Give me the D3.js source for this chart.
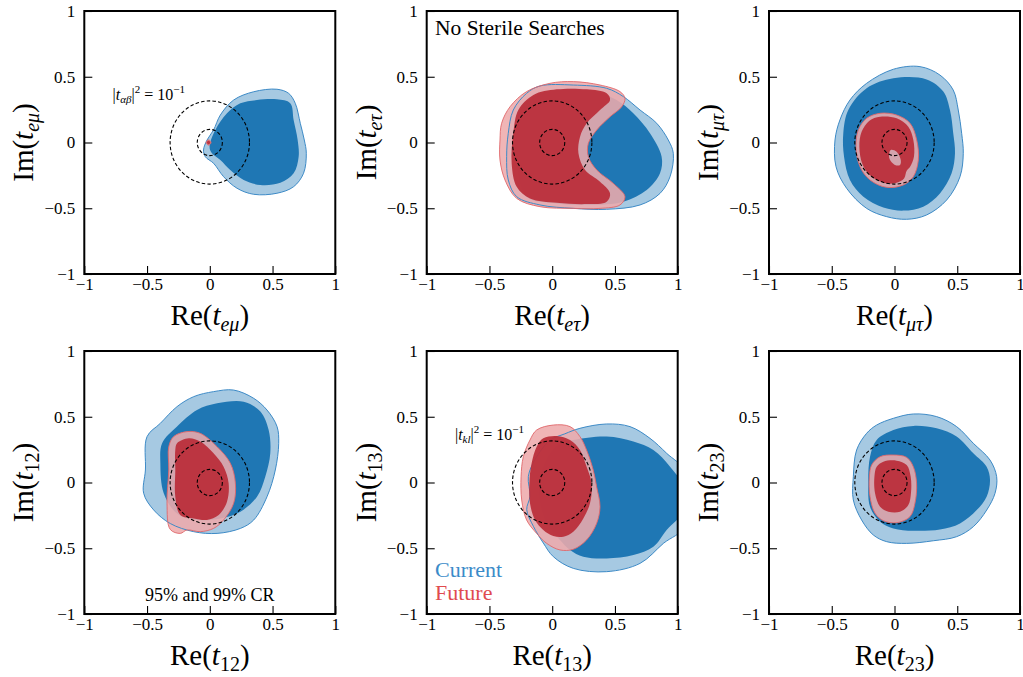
<!DOCTYPE html>
<html><head><meta charset="utf-8">
<script src="https://cdn.jsdelivr.net/npm/d3@7"></script>
<style>body{margin:0;background:#fff;} svg{display:block;font-family:"Liberation Serif","Times New Roman",serif;}</style>
</head><body><svg id="c" width="1023" height="677" font-family="Liberation Serif"></svg>
<script>
// ---------- data ----------
const subscripts = ["eμ","eτ","μτ","12","13","23"];
const subItalic = [true,true,true,false,false,false];
const tickValues = [-1,-0.5,0,0.5,1];
const tickLabels = ["−1","−0.5","0","0.5","1"];
const circleRadii = [Math.sqrt(0.1), Math.sqrt(0.01)]; // |t|^2 = 10^-1, 10^-2

// panel 1: t_eμ
const p1Blue99 = [[0.535,0.405],[0.35,0.386],[0.19,0.323],[0.084,0.209],[0.03,0.095],[-0.022,0.019],[-0.05,-0.057],[-0.036,-0.108],[0.03,-0.158],[0.11,-0.26],[0.217,-0.348],[0.35,-0.394],[0.535,-0.386],[0.668,-0.336],[0.747,-0.234],[0.769,-0.082],[0.753,0.019],[0.721,0.146],[0.681,0.298],[0.628,0.374]];
const p1Blue95 = [[-0.002,-0.032],[0.044,0.095],[0.137,0.222],[0.243,0.298],[0.376,0.323],[0.535,0.328],[0.641,0.298],[0.668,0.171],[0.7,0.019],[0.708,-0.108],[0.668,-0.234],[0.562,-0.306],[0.402,-0.323],[0.27,-0.285],[0.163,-0.209],[0.084,-0.133],[0.017,-0.082]];
const p1Red99 = [[-0.03,0.0],[-0.01,0.02],[0.01,0.0],[-0.01,-0.02]];
const p1Red95 = [[-0.025,0.0],[-0.01,0.016],[0.005,0.0],[-0.01,-0.016]];

// panel 2: t_eτ
const p2Blue99 = [[-0.097,0.43],[0.168,0.437],[0.434,0.412],[0.567,0.349],[0.70,0.247],[0.833,0.146],[0.925,0.019],[0.965,-0.082],[0.939,-0.26],[0.859,-0.387],[0.70,-0.475],[0.434,-0.508],[0.168,-0.501],[-0.097,-0.475],[-0.283,-0.412],[-0.35,-0.285],[-0.363,-0.108],[-0.35,0.07],[-0.31,0.247],[-0.204,0.374]];
const p2Blue95 = [[-0.044,0.387],[0.301,0.40],[0.513,0.323],[0.646,0.222],[0.779,0.07],[0.872,-0.108],[0.859,-0.234],[0.753,-0.361],[0.567,-0.45],[0.301,-0.475],[0.036,-0.463],[-0.204,-0.412],[-0.283,-0.184],[-0.296,0.07],[-0.243,0.272]];
const p2Red99 = [[-0.416,0.019],[-0.403,0.146],[-0.336,0.272],[-0.204,0.387],[-0.018,0.45],[0.168,0.463],[0.381,0.437],[0.54,0.387],[0.58,0.336],[0.554,0.272],[0.461,0.196],[0.355,0.095],[0.288,-0.006],[0.288,-0.108],[0.355,-0.209],[0.487,-0.311],[0.58,-0.412],[0.54,-0.475],[0.381,-0.501],[0.168,-0.501],[-0.097,-0.488],[-0.283,-0.425],[-0.376,-0.285],[-0.416,-0.133]];
const p2Red95 = [[-0.31,0.07],[-0.27,0.247],[-0.15,0.361],[0.036,0.404],[0.275,0.404],[0.434,0.374],[0.461,0.323],[0.381,0.247],[0.275,0.146],[0.222,0.044],[0.209,-0.082],[0.262,-0.209],[0.381,-0.298],[0.461,-0.387],[0.434,-0.45],[0.275,-0.468],[0.036,-0.458],[-0.177,-0.425],[-0.283,-0.336],[-0.323,-0.159]];

// panel 3: t_μτ
const p3Blue99 = [[-0.009,0.557],[0.203,0.577],[0.362,0.513],[0.468,0.399],[0.508,0.247],[0.535,0.07],[0.548,-0.082],[0.522,-0.26],[0.416,-0.437],[0.256,-0.551],[0.097,-0.584],[-0.062,-0.564],[-0.222,-0.501],[-0.381,-0.349],[-0.466,-0.184],[-0.474,0.019],[-0.435,0.171],[-0.355,0.323],[-0.222,0.45]];
const p3Blue95 = [[-0.009,0.488],[0.256,0.48],[0.389,0.387],[0.442,0.247],[0.468,0.07],[0.482,-0.082],[0.455,-0.234],[0.362,-0.387],[0.229,-0.488],[0.07,-0.518],[-0.089,-0.494],[-0.248,-0.412],[-0.355,-0.285],[-0.402,-0.108],[-0.408,0.07],[-0.368,0.247],[-0.222,0.412]];
const p3Red99 = [[-0.115,0.222],[0.017,0.209],[0.124,0.146],[0.177,0.019],[0.19,-0.133],[0.15,-0.26],[0.07,-0.323],[-0.062,-0.341],[-0.195,-0.285],[-0.275,-0.184],[-0.307,-0.032],[-0.288,0.095],[-0.222,0.184]];
const p3Red95 = [[-0.115,0.196],[0.017,0.184],[0.11,0.12],[0.15,0.019],[0.155,-0.108],[0.124,-0.184],[0.097,-0.215],[0.076,-0.273],[0.017,-0.306],[-0.062,-0.311],[-0.182,-0.26],[-0.253,-0.171],[-0.28,-0.032],[-0.262,0.082],[-0.2,0.166]];
const p3Red95Hole = [[-0.03,-0.057],[0.017,-0.07],[0.05,-0.133],[0.044,-0.171],[0.004,-0.171],[-0.041,-0.12]];

// panel 4: t_12
const p4Blue99 = [[0.03,0.691],[0.19,0.703],[0.35,0.64],[0.456,0.551],[0.536,0.425],[0.549,0.298],[0.522,0.095],[0.456,-0.108],[0.35,-0.285],[0.244,-0.349],[0.058,-0.387],[-0.128,-0.374],[-0.315,-0.312],[-0.447,-0.209],[-0.527,-0.082],[-0.513,0.095],[-0.5,0.349],[-0.394,0.45],[-0.261,0.577],[-0.128,0.653]];
const p4Blue95 = [[0.058,0.602],[0.27,0.615],[0.403,0.539],[0.469,0.399],[0.482,0.222],[0.442,0.044],[0.376,-0.108],[0.244,-0.222],[0.085,-0.273],[-0.102,-0.285],[-0.261,-0.236],[-0.367,-0.082],[-0.394,0.146],[-0.38,0.298],[-0.261,0.425],[-0.102,0.551]];
const p4Red99 = [[-0.288,0.349],[-0.182,0.387],[-0.076,0.374],[0.058,0.272],[0.164,0.146],[0.204,-0.006],[0.19,-0.158],[0.11,-0.285],[0.03,-0.349],[-0.076,-0.374],[-0.182,-0.361],[-0.235,-0.387],[-0.315,-0.357],[-0.341,-0.158],[-0.327,0.095],[-0.327,0.272]];
const p4Red95 = [[-0.261,0.298],[-0.168,0.336],[-0.076,0.311],[0.03,0.222],[0.11,0.12],[0.15,-0.006],[0.137,-0.146],[0.071,-0.247],[-0.023,-0.285],[-0.128,-0.273],[-0.235,-0.247],[-0.275,-0.108],[-0.275,0.095],[-0.275,0.247]];

// panel 5: t_13
const p5Blue99 = [[0.221,0.412],[0.434,0.445],[0.62,0.425],[0.779,0.336],[0.912,0.222],[1.06,0.08],[1.06,-0.33],[0.886,-0.463],[0.7,-0.615],[0.434,-0.678],[0.168,-0.653],[0.009,-0.564],[-0.071,-0.46],[-0.15,-0.333],[-0.203,-0.207],[-0.177,-0.105],[-0.19,0.047],[-0.137,0.174],[-0.018,0.32],[0.1,0.37]];
const p5Blue95 = [[0.168,0.323],[0.434,0.349],[0.647,0.311],[0.806,0.247],[0.939,0.12],[1.06,-0.05],[1.06,-0.2],[0.912,-0.361],[0.806,-0.488],[0.647,-0.551],[0.434,-0.577],[0.248,-0.564],[0.142,-0.513],[0.062,-0.437],[-0.044,-0.311],[-0.097,-0.158],[-0.097,0.044],[-0.018,0.222],[0.062,0.298]];
const p5Red99 = [[-0.124,0.399],[0.009,0.437],[0.142,0.425],[0.221,0.349],[0.274,0.247],[0.327,0.095],[0.354,-0.032],[0.381,-0.184],[0.354,-0.311],[0.274,-0.437],[0.168,-0.508],[0.062,-0.513],[-0.044,-0.463],[-0.124,-0.387],[-0.204,-0.285],[-0.243,-0.133],[-0.248,0.044],[-0.23,0.196],[-0.177,0.323]];
const p5Red95 = [[-0.071,0.336],[0.036,0.354],[0.142,0.323],[0.221,0.247],[0.274,0.12],[0.314,-0.006],[0.301,-0.158],[0.248,-0.273],[0.168,-0.374],[0.089,-0.412],[0.009,-0.407],[-0.071,-0.361],[-0.137,-0.285],[-0.177,-0.158],[-0.182,-0.006],[-0.164,0.146],[-0.124,0.272]];

// panel 6: t_23
const p6Blue99 = [[-0.009,0.488],[0.15,0.521],[0.336,0.501],[0.495,0.425],[0.628,0.298],[0.761,0.171],[0.814,0.044],[0.801,-0.082],[0.735,-0.209],[0.628,-0.336],[0.495,-0.412],[0.309,-0.443],[0.097,-0.463],[-0.062,-0.45],[-0.169,-0.399],[-0.262,-0.285],[-0.328,-0.133],[-0.328,0.044],[-0.302,0.247],[-0.222,0.374],[-0.142,0.437]];
const p6Blue95 = [[-0.009,0.399],[0.15,0.43],[0.336,0.412],[0.495,0.349],[0.628,0.222],[0.734,0.12],[0.761,0.019],[0.734,-0.108],[0.655,-0.209],[0.522,-0.311],[0.362,-0.357],[0.15,-0.367],[-0.009,-0.349],[-0.115,-0.298],[-0.195,-0.184],[-0.209,-0.006],[-0.195,0.196],[-0.142,0.323]];
const p6Red99 = [[-0.115,0.196],[-0.009,0.209],[0.097,0.191],[0.15,0.12],[0.176,-0.006],[0.163,-0.158],[0.123,-0.26],[0.017,-0.306],[-0.089,-0.29],[-0.155,-0.234],[-0.195,-0.108],[-0.2,0.044],[-0.182,0.133]];
const p6Red95 = [[-0.089,0.158],[0.017,0.166],[0.097,0.133],[0.129,0.044],[0.131,-0.082],[0.11,-0.171],[0.044,-0.222],[-0.049,-0.222],[-0.115,-0.184],[-0.155,-0.082],[-0.16,0.044],[-0.142,0.12]];

// ---------- layout ----------
const W = 251, H = 263;
const colL = [84.3, 426.7, 769], rowT = [11, 351];
const FONT = "Liberation Serif";
const panels = [
  {b99:p1Blue99,b95:p1Blue95,r99:[p1Red99],r95:[p1Red95]},
  {b99:p2Blue99,b95:p2Blue95,r99:[p2Red99],r95:[p2Red95]},
  {b99:p3Blue99,b95:p3Blue95,r99:[p3Red99],r95:[p3Red95,p3Red95Hole]},
  {b99:p4Blue99,b95:p4Blue95,r99:[p4Red99],r95:[p4Red95]},
  {b99:p5Blue99,b95:p5Blue95,r99:[p5Red99],r95:[p5Red95]},
  {b99:p6Blue99,b95:p6Blue95,r99:[p6Red99],r95:[p6Red95]}
];

const svg = d3.select("#c");
const x = d3.scaleLinear().domain([-1,1]).range([0,W]);
const y = d3.scaleLinear().domain([-1,1]).range([H,0]);
const line = d3.line().x(d=>x(d[0])).y(d=>y(d[1])).curve(d3.curveCatmullRomClosed.alpha(0.5));
const rings = rs => rs.map(r=>line(r)).join("");

panels.forEach((p,i)=>{
  const col = i%3, row = Math.floor(i/3);
  const g = svg.append("g").attr("transform",`translate(${colL[col]},${rowT[row]})`).attr("font-family",FONT);
  const cid = "clip"+i;
  g.append("clipPath").attr("id",cid).append("rect").attr("width",W).attr("height",H);
  const c = g.append("g").attr("clip-path",`url(#${cid})`);
  c.append("path").attr("d",line(p.b99)).attr("fill","#a6c9e2");
  c.append("path").attr("d",line(p.b95)).attr("fill","#1f77b4");
  c.append("path").attr("d",rings(p.r99)).attr("fill","#eeaaac").attr("fill-opacity",0.875);
  c.append("path").attr("d",line(p.b99)).attr("fill","none").attr("stroke","#3d8ac6").attr("stroke-width",1);
  c.append("path").attr("d",rings(p.r99)).attr("fill","none").attr("stroke","#e0686b").attr("stroke-width",0.9);
  c.append("path").attr("d",rings(p.r95)).attr("fill","#bb2f3b").attr("fill-opacity",0.95).attr("fill-rule","evenodd");
  circleRadii.forEach(r=>{
    c.append("ellipse").attr("cx",x(0)).attr("cy",y(0)).attr("rx",x(r)-x(0)).attr("ry",y(0)-y(r))
      .attr("fill","none").attr("stroke","#000").attr("stroke-width",1.1).attr("stroke-dasharray","3.5,2.2");
  });

  const fmt = (d)=>tickLabels[tickValues.indexOf(d)];
  const ax = g.append("g").attr("transform",`translate(0,${H})`)
    .call(d3.axisBottom(x).tickValues(tickValues).tickSizeInner(-8).tickSizeOuter(0).tickPadding(4).tickFormat(fmt));
  const ay = g.append("g")
    .call(d3.axisLeft(y).tickValues(tickValues).tickSizeInner(-8).tickSizeOuter(0).tickPadding(9).tickFormat(fmt));
  [ax,ay].forEach(a=>{
    a.select(".domain").remove();
    a.attr("font-family",FONT).attr("font-size",17);
    a.selectAll("line").attr("stroke","#000").attr("stroke-width",1.1);
    a.selectAll("text").attr("fill","#000").attr("font-family",FONT);
  });
  g.append("rect").attr("width",W).attr("height",H).attr("fill","none").attr("stroke","#000").attr("stroke-width",2);

  const lab = (t, prefix)=>{
    t.append("tspan").text(prefix+"(");
    t.append("tspan").attr("font-style","italic").text("t");
    t.append("tspan").attr("font-size",20).attr("dy",6).attr("font-style",subItalic[i]?"italic":"normal").text(subscripts[i]);
    t.append("tspan").attr("dy",-6).text(")");
  };
  lab(g.append("text").attr("x",W/2).attr("y",H+51).attr("text-anchor","middle").attr("font-size",29), "Re");
  lab(g.append("text").attr("transform",`translate(-51,${H/2}) rotate(-90)`).attr("text-anchor","middle").attr("font-size",29), "Im");

  const annot = (sub)=>{
    const t = g.append("text").attr("x",x(-0.775)).attr("y",y(0.32)).attr("font-size",16);
    t.append("tspan").text("|");
    t.append("tspan").attr("font-style","italic").text("t");
    t.append("tspan").attr("font-style","italic").attr("font-size",11).attr("dy",3).text(sub);
    t.append("tspan").attr("dy",-3).text("|");
    t.append("tspan").attr("font-size",11).attr("dy",-7).text("2");
    t.append("tspan").attr("dy",7).text(" = 10");
    t.append("tspan").attr("font-size",11).attr("dy",-7).text("−1");
  };
  if(i===0) annot("αβ");
  if(i===4) annot("kl");
  if(i===1) g.append("text").attr("x",x(-0.934)).attr("y",y(0.817)).attr("font-size",21.5).text("No Sterile Searches");
  if(i===3) g.append("text").attr("x",x(0)).attr("y",y(-0.9)).attr("text-anchor","middle").attr("font-size",18).text("95% and 99% CR");
  if(i===4){
    g.append("text").attr("x",x(-0.934)).attr("y",y(-0.716)).attr("font-size",22).attr("fill","#3b8bc9").text("Current");
    g.append("text").attr("x",x(-0.934)).attr("y",y(-0.89)).attr("font-size",22).attr("fill","#e04b4f").text("Future");
  }
});
</script></body></html>
